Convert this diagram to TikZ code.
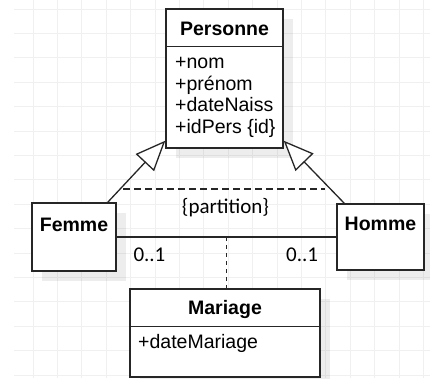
\documentclass[tikz,border=0pt]{standalone}
\usepackage{fontspec}
\setmainfont{Liberation Sans}
\newfontfamily\carlito{Carlito}
\usetikzlibrary{arrows.meta,calc,shadows}
\begin{document}
\begin{tikzpicture}[x=1pt,y=-1pt,
  gridline/.style={draw=black!6, line width=1pt},
  umlbox/.style={draw=black!85, line width=1.4pt, fill=white, inner sep=0pt,
    drop shadow={shadow xshift=10pt, shadow yshift=-10pt, fill=black, opacity=0.07}},
  title/.style={font=\bfseries\fontsize{19.5}{23}\selectfont, anchor=base, inner sep=0pt},
  attr/.style={font=\fontsize{19.5}{23}\selectfont, anchor=base west, inner sep=0pt},
  note/.style={font=\carlito\fontsize{21}{25}\selectfont, anchor=base west, inner sep=0pt},
  link/.style={draw=black!85, line width=1.3pt},
  gen/.style={link, -{Triangle[open, length=30pt, width=25pt, fill=white]}}
]
\useasboundingbox (0,0) rectangle (430,378);

% background grid
\foreach \gx in {33,57.4,...,430} \draw[gridline] (\gx,0) -- (\gx,378);
\foreach \gy in {9,33.4,...,378} \draw[gridline] (14,\gy) -- (430,\gy);

% classes
\node[umlbox, minimum width=117pt, minimum height=139pt] (personne) at (224.5,78.5) {};
\node[umlbox, minimum width=84pt, minimum height=68pt] (femme) at (74,237) {};
\node[umlbox, minimum width=87pt, minimum height=66pt] (homme) at (380.5,237) {};
\node[umlbox, minimum width=190pt, minimum height=88pt] (mariage) at (225,333) {};

% compartment separators
\draw[link, line width=1.4pt] ($(personne.north west)+(0,38)$) -- ($(personne.north east)+(0,38)$);
\draw[link, line width=1.4pt] ($(mariage.north west)+(0,38)$) -- ($(mariage.north east)+(0,38)$);

% class names and attributes
\node[title] (personneT) at (224.5,35) {Personne};
\node[attr] (aNom) at (175,68.5) {+nom};
\node[attr] (aPrenom) at (175,90) {+prénom};
\node[attr] (aDate) at (175,111.7) {+dateNaiss};
\node[attr] (aId) at (175,133.5) {+idPers \{id\}};
\node[title] (femmeT) at (74,231) {Femme};
\node[title] (hommeT) at (380.5,230) {Homme};
\node[title] (mariageT) at (225,314) {Mariage};
\node[attr] (aMariage) at (138,348) {+dateMariage};

% generalisations
\coordinate (fTop) at ($(femme.north east)+(-9,0)$);
\coordinate (hTop) at ($(homme.north west)+(8,0)$);
\coordinate (pL) at ($(personne.south west)+(0,-8)$);
\coordinate (pR) at ($(personne.south east)+(0,-8)$);
\draw[gen] (fTop) -- (pL);
\draw[gen] (hTop) -- (pR);

% partition constraint
\coordinate (dashL) at (123,189);
\coordinate (dashR) at (325,189);
\draw[link, dash pattern=on 7pt off 4pt] (dashL) -- (dashR);
\node[note, anchor=base] (part) at (225.5,213.5) {\{partition\}};

% association with its class
\draw[link] (femme.east) -- (homme.west) coordinate[pos=0.5] (mid);
\draw[link, dash pattern=on 4pt off 4pt] (mid) -- (mid |- mariage.north);
\node[note] (mL) at (133.3,261.7) {0..1};
\node[note] (mR) at (286,261.7) {0..1};
\end{tikzpicture}
\end{document}
